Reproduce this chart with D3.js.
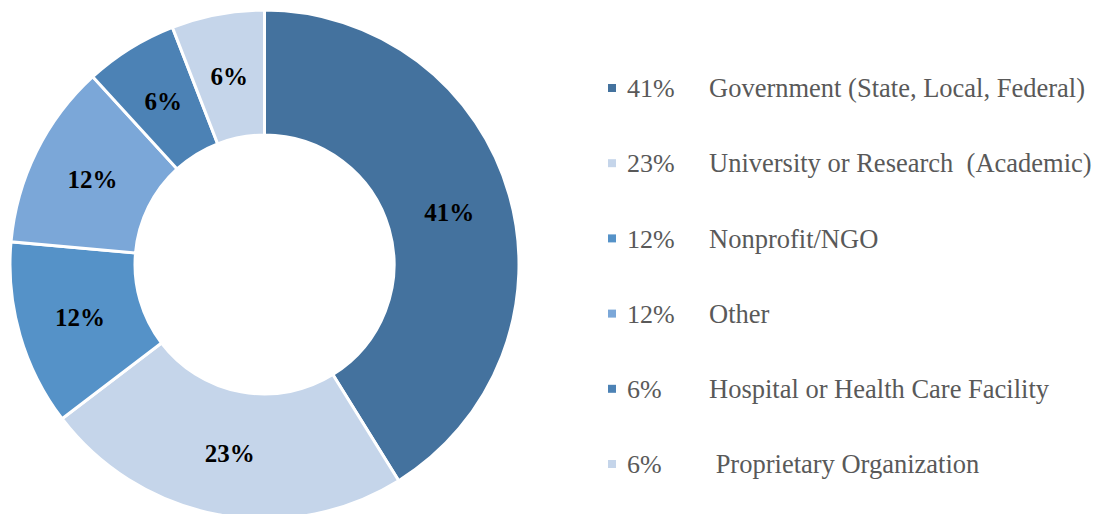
<!DOCTYPE html>
<html><head><meta charset="utf-8">
<script src="https://cdn.jsdelivr.net/npm/d3@7"></script>
<style>body{margin:0;background:#fff}svg{display:block}text{white-space:pre}</style>
</head><body>
<svg id="c" width="1099" height="514"></svg>
<script>
const categories = ["Government (State, Local, Federal)", "University or Research  (Academic)", "Nonprofit/NGO", "Other", "Hospital or Health Care Facility", " Proprietary Organization"];
const values = [41.2, 23.5, 11.8, 11.8, 5.9, 5.9];
const pctLabels = ["41%", "23%", "12%", "12%", "6%", "6%"];
const colors = ["#44729E", "#C5D5EA", "#5592C8", "#7BA7D8", "#4C82B5", "#C5D5EA"];

const svg = d3.select("#c");
const cx = 264.5, cy = 264.5, rOut = 254.5, rIn = 129.5;
const pie = d3.pie().sort(null).value(d => d)(values);
const arc = d3.arc().innerRadius(rIn).outerRadius(rOut);
const g = svg.append("g").attr("transform", `translate(${cx},${cy})`);
g.selectAll("path").data(pie).join("path")
  .attr("d", arc).attr("fill", (d,i) => colors[i])
  .attr("stroke", "#fff").attr("stroke-width", 3).attr("stroke-linejoin","miter");
g.selectAll("text").data(pie).join("text")
  .attr("transform", d => `translate(${arc.centroid(d)})`)
  .attr("text-anchor", "middle").attr("dy", "0.35em")
  .attr("font-family", "'Liberation Serif', 'Times New Roman', serif")
  .attr("font-weight", "bold").attr("font-size", 25).attr("fill", "#000")
  .text((d,i) => pctLabels[i]);

const y = d3.scalePoint().domain(d3.range(categories.length)).range([88, 464]);
const lg = svg.append("g");
const rows = lg.selectAll("g").data(categories).join("g")
  .attr("transform", (d,i) => `translate(0,${y(i)})`);
rows.append("rect").attr("x", 608).attr("y", -4).attr("width", 8).attr("height", 8)
  .attr("fill", (d,i) => colors[i]);
rows.append("text").attr("x", 627).attr("dy", "0.35em")
  .attr("font-family", "'Liberation Serif', 'Times New Roman', serif")
  .attr("font-size", 26).attr("fill", "#595959").text((d,i) => pctLabels[i]);
rows.append("text").attr("x", 709).attr("dy", "0.35em")
  .attr("font-family", "'Liberation Serif', 'Times New Roman', serif")
  .attr("font-size", 26.5).attr("fill", "#595959").text(d => d);
</script>
</body></html>
